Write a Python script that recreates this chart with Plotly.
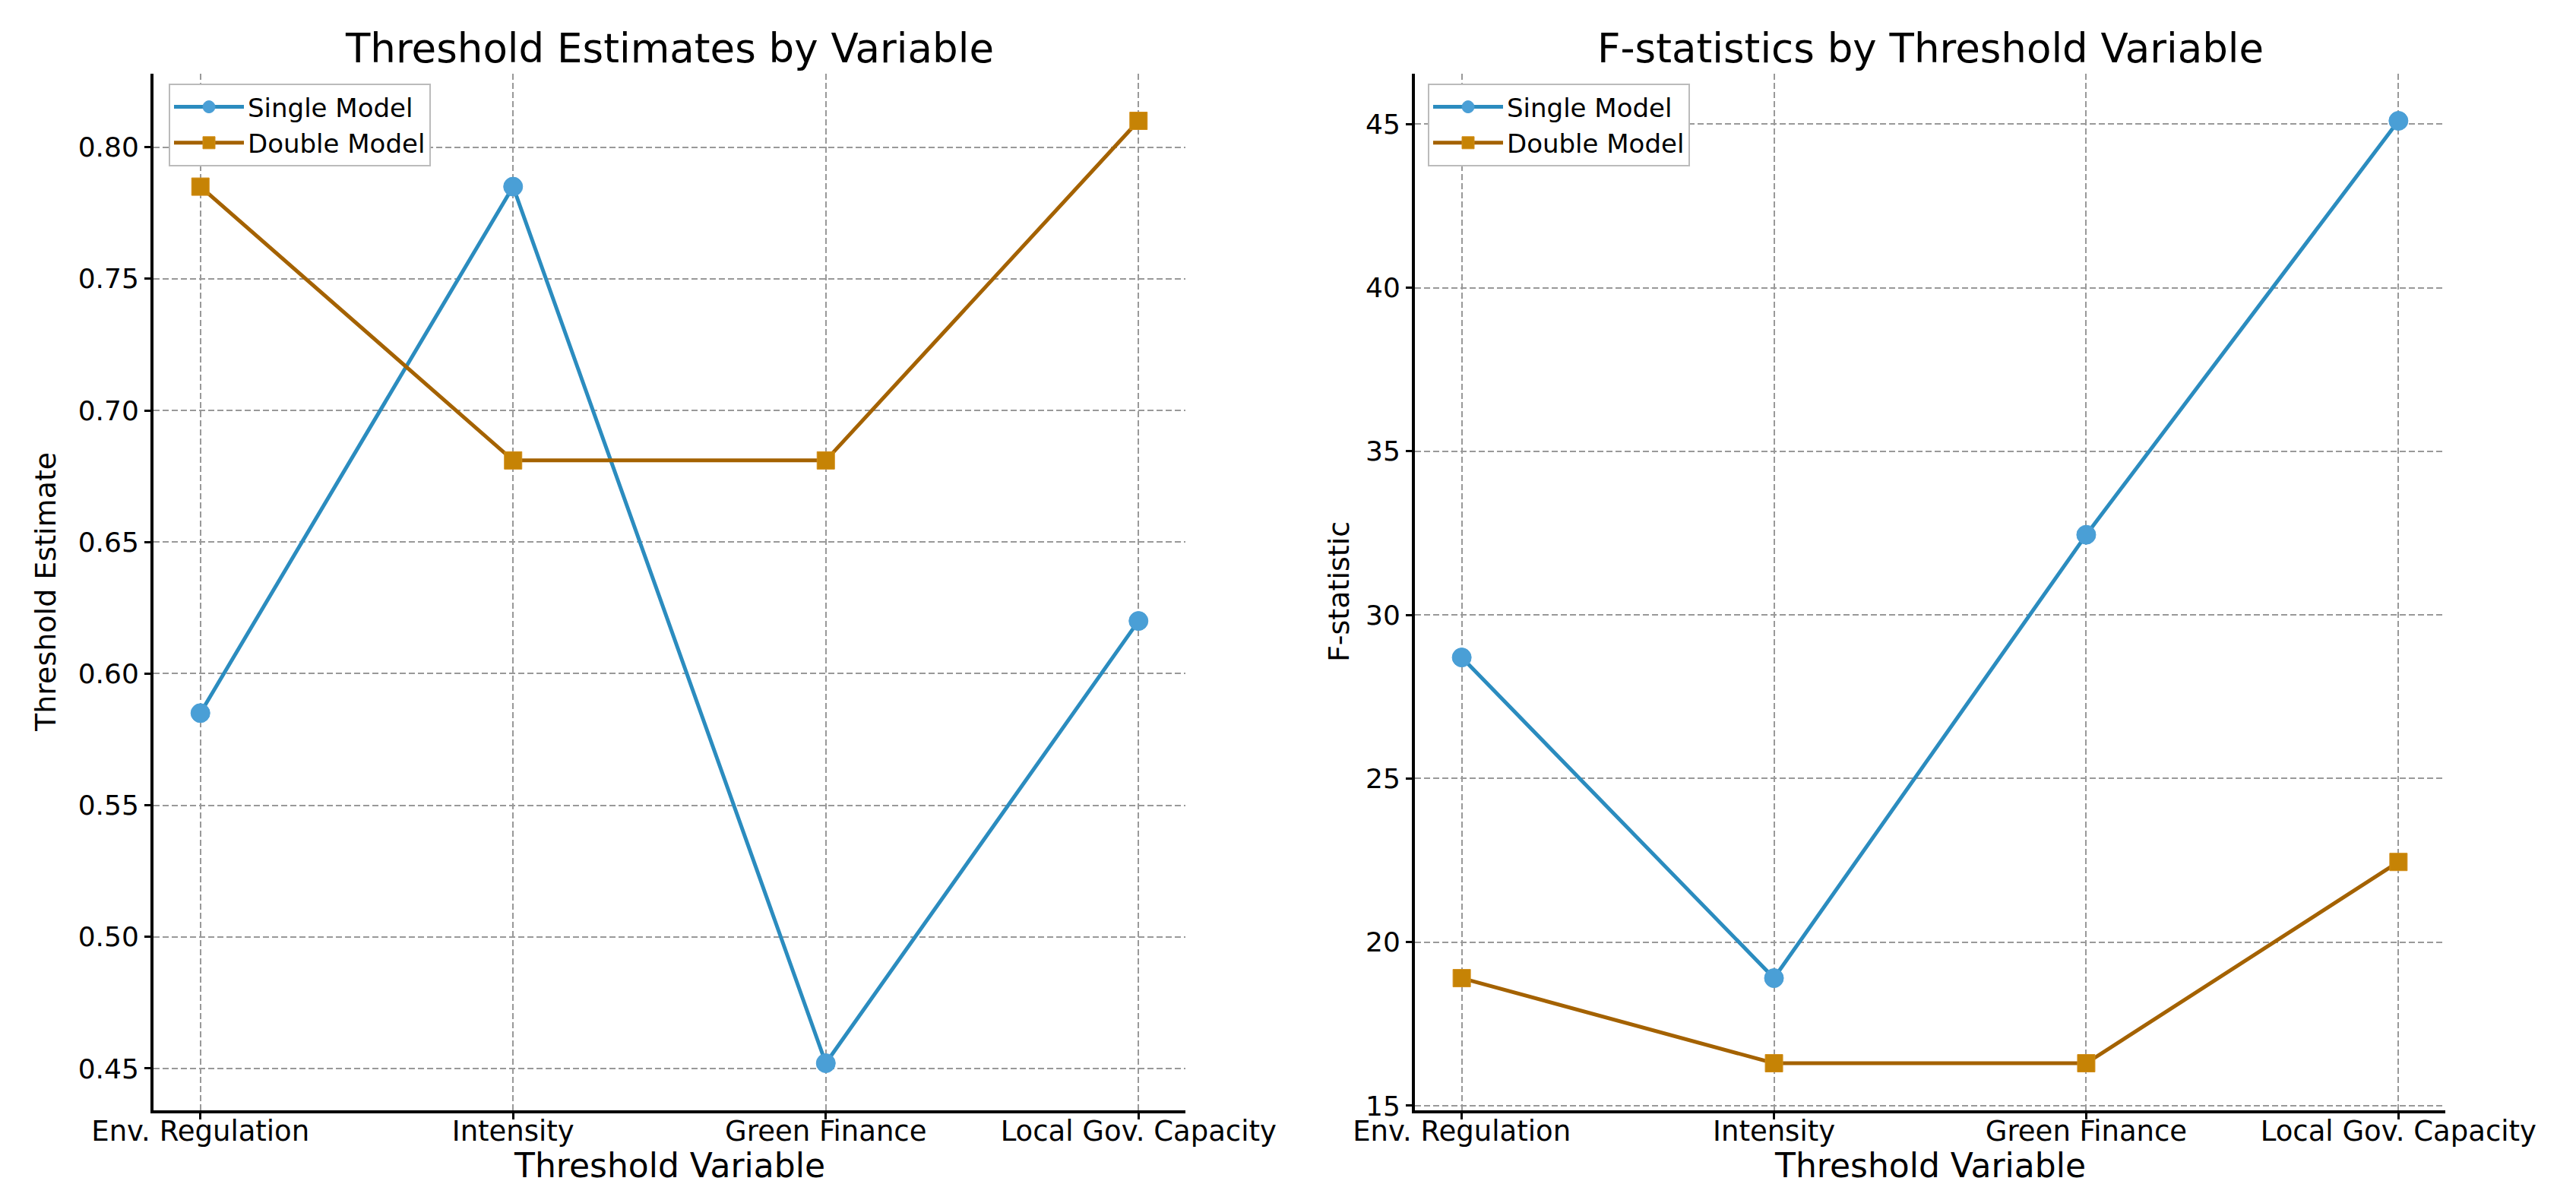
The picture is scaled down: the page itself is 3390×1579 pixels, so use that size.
import plotly.graph_objects as go

# ---- data ----
categories = ["Env. Regulation", "Intensity", "Green Finance", "Local Gov. Capacity"]
threshold_single = [0.585, 0.785, 0.452, 0.620]
threshold_double = [0.785, 0.681, 0.681, 0.810]
fstat_single = [28.7, 18.9, 32.45, 45.1]
fstat_double = [18.9, 16.3, 16.3, 22.45]
series_names = ["Single Model", "Double Model"]
titles = ["Threshold Estimates by Variable", "F-statistics by Threshold Variable"]
x_label = "Threshold Variable"
y_labels = ["Threshold Estimate", "F-statistic"]

# page is 3390x1579; the html body has an 8px margin, so the figure is drawn inset by 8px
PAGE_W, PAGE_H = 3390, 1579
OFF = 8
W, H = PAGE_W - 2 * OFF, PAGE_H - 2 * OFF
FONT = "DejaVu Sans"


def px_x(p):
    return (p - OFF) / W


def px_y(p):
    return 1 - (p - OFF) / H


single_line = "#2b8cbf"
single_marker = "#4a9fd6"
double_line = "#a46200"
double_marker = "#c68305"


def pad_range(*arrs):
    vals = [v for a in arrs for v in a]
    lo, hi = min(vals), max(vals)
    d = (hi - lo) * 0.05
    return [lo - d, hi + d]


fig = go.Figure()

for i, (s, d) in enumerate([(threshold_single, threshold_double), (fstat_single, fstat_double)]):
    xa = "x" if i == 0 else "x2"
    ya = "y" if i == 0 else "y2"
    lg = "legend" if i == 0 else "legend2"
    fig.add_trace(go.Scatter(
        x=categories, y=s, name=series_names[0], mode="lines+markers",
        line=dict(color=single_line, width=5),
        marker=dict(symbol="circle", size=25, color=single_marker, line=dict(color=single_marker, width=1)),
        xaxis=xa, yaxis=ya, legend=lg))
    fig.add_trace(go.Scatter(
        x=categories, y=d, name=series_names[1], mode="lines+markers",
        line=dict(color=double_line, width=5),
        marker=dict(symbol="square", size=23, color=double_marker, line=dict(color="#d28e1a", width=1)),
        xaxis=xa, yaxis=ya, legend=lg))

grid = dict(showgrid=True, gridcolor="#999999", gridwidth=2, griddash="8px,4px", zeroline=False)
axis_common = dict(showline=True, linecolor="black", linewidth=4, ticks="outside", ticklen=8,
                   tickwidth=2.5, tickcolor="black", automargin=False, **grid)
xaxis_common = dict(axis_common, type="category", range=[-0.15, 3.15], ticklabelstandoff=-16,
                    tickfont=dict(family=FONT, size=37, color="black"))
yaxis_common = dict(axis_common, tickfont=dict(family=FONT, size=36, color="black"))

y_dom = [px_y(1461), px_y(97)]
x_doms = [[px_x(202), px_x(1560)], [px_x(1862), px_x(3218)]]

legend_common = dict(xanchor="left", yanchor="top", bgcolor="white", bordercolor="#bbbbbb",
                     borderwidth=2, itemwidth=92, font=dict(family=FONT, size=34, color="black"))

fig.update_layout(
    width=W, height=H,
    margin=dict(l=0, r=0, t=0, b=0),
    paper_bgcolor="white", plot_bgcolor="white",
    font=dict(family=FONT, color="black"),
    xaxis=dict(domain=x_doms[0], anchor="y", **xaxis_common),
    yaxis=dict(domain=y_dom, anchor="x", range=pad_range(threshold_single, threshold_double),
               tick0=0.45, dtick=0.05, tickformat=".2f", **yaxis_common),
    xaxis2=dict(domain=x_doms[1], anchor="y2", **xaxis_common),
    yaxis2=dict(domain=y_dom, anchor="x2", range=pad_range(fstat_single, fstat_double),
                tick0=15, dtick=5, **yaxis_common),
    legend=dict(x=px_x(222), y=px_y(110), **legend_common),
    legend2=dict(x=px_x(1879), y=px_y(110), **legend_common),
    showlegend=True,
)

annotations = []
for i in range(2):
    cx = (x_doms[i][0] + x_doms[i][1]) / 2
    annotations.append(dict(text=titles[i], x=cx, y=px_y(64), xref="paper", yref="paper",
                            xanchor="center", yanchor="middle", showarrow=False,
                            font=dict(family=FONT, size=53, color="black")))
    annotations.append(dict(text=x_label, x=cx, y=px_y(1533), xref="paper", yref="paper",
                            xanchor="center", yanchor="middle", showarrow=False,
                            font=dict(family=FONT, size=44, color="black")))
ylab_x = [px_x(60), px_x(1762)]
for i in range(2):
    annotations.append(dict(text=y_labels[i], x=ylab_x[i], y=(y_dom[0] + y_dom[1]) / 2,
                            xref="paper", yref="paper", xanchor="center", yanchor="middle",
                            textangle=-90, showarrow=False,
                            font=dict(family=FONT, size=38, color="black")))
fig.update_layout(annotations=annotations)

fig.write_html("out.html")
